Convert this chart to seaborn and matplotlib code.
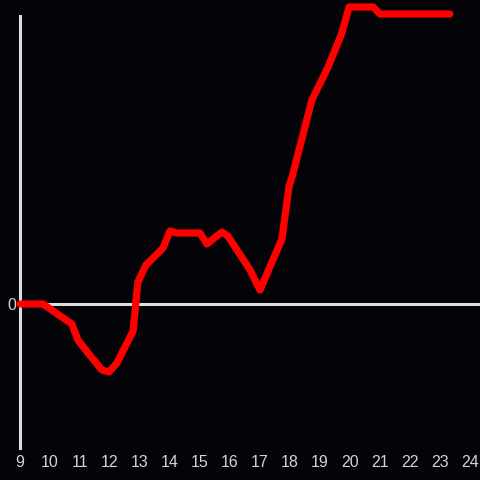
import matplotlib
matplotlib.use('Agg')
import matplotlib.pyplot as plt
import seaborn as sns
import pandas as pd

# intraday move, hours vs change
hours = [9.00, 9.77, 10.73, 10.93, 11.27, 11.73, 11.97, 12.23, 12.77, 12.93,
         13.20, 13.77, 14.00, 14.23, 15.00, 15.23, 15.73, 15.93, 16.67, 17.00,
         17.73, 17.97, 18.07, 18.73, 19.27, 19.73, 19.97, 20.77, 21.00, 23.33]
change = [0.00, 0.00, -0.20, -0.36, -0.49, -0.66, -0.68, -0.59, -0.27, 0.22,
          0.39, 0.56, 0.73, 0.71, 0.71, 0.60, 0.72, 0.68, 0.34, 0.14,
          0.65, 1.18, 1.27, 2.04, 2.37, 2.71, 2.97, 2.97, 2.90, 2.90]
xticks = list(range(9, 25))

df = pd.DataFrame({'hour': hours, 'change': change})

sns.set_style('dark')
bg = '#040307'
fg = '#dddddd'
plt.rcParams['font.family'] = ['Liberation Sans', 'DejaVu Sans']

fig = plt.figure(figsize=(4.8, 4.8), dpi=100, facecolor=bg)
ax = fig.add_axes([20 / 480, 32 / 480, 460 / 480, 432 / 480])
ax.set_facecolor(bg)

ax.axhline(0, color=fg, lw=2.2, zorder=1)
sns.lineplot(data=df, x='hour', y='change', color='#ff0000', lw=5.2,
             ax=ax, clip_on=False, zorder=3)

ax.set_xlim(9, 9 + 460 / 30)
ax.set_ylim((304 - 448) / 100, (304 - 16) / 100)
ax.set_xticks(xticks)
ax.set_xticklabels([str(t) for t in xticks])
ax.set_yticks([0])
ax.set_yticklabels(['0'])
ax.tick_params(colors='#d4d4d4', labelsize=11.5, length=0, pad=5)
ax.tick_params(axis='y', pad=3)
ax.set_xlabel('')
ax.set_ylabel('')
ax.grid(False)
for side in ['top', 'right', 'bottom']:
    ax.spines[side].set_visible(False)
ax.spines['left'].set_color(fg)
ax.spines['left'].set_linewidth(2.2)

plt.savefig('out.png', dpi=100, facecolor=bg)
plt.close()
